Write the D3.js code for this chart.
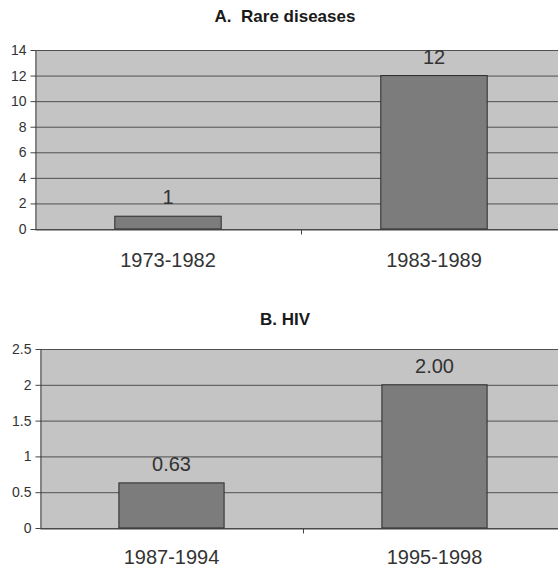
<!DOCTYPE html>
<html>
<head>
<meta charset="utf-8">
<script src="https://cdn.jsdelivr.net/npm/d3@7"></script>
<style>
  body { margin: 0; background: #fff; }
  svg { display: block; font-family: Arial, "Liberation Sans", sans-serif; }
</style>
</head>
<body>
<svg id="chart"></svg>
<script>
// panel A
var rareCategories = ['1973-1982', '1983-1989'];
var rareValues = [1, 12];
var rareLabels = ['1', '12'];
var rareTicks = [0, 2, 4, 6, 8, 10, 12, 14];

// panel B
var hivCategories = ['1987-1994', '1995-1998'];
var hivValues = [0.63, 2.00];
var hivLabels = ['0.63', '2.00'];
var hivTicks = [0, 0.5, 1, 1.5, 2, 2.5];

var width = 558, height = 567;
var svg = d3.select('#chart').attr('width', width).attr('height', height);

function drawPanel(opts) {
  var g = svg.append('g');
  var x = d3.scaleBand().domain(opts.categories).range([opts.left, opts.right]).paddingInner(0).paddingOuter(0);
  var y = d3.scaleLinear().domain([0, opts.max]).range([opts.bottom, opts.top]);

  // title
  g.append('text')
    .attr('x', 285).attr('y', opts.titleY)
    .attr('text-anchor', 'middle')
    .style('font-size', '17px').style('font-weight', 'bold').style('fill', '#1a1a1a')
    .style('white-space', 'pre')
    .text(opts.title);

  // plot background
  g.append('rect')
    .attr('x', opts.left).attr('y', opts.top)
    .attr('width', opts.right - opts.left).attr('height', opts.bottom - opts.top)
    .style('fill', '#c4c4c4');

  // gridlines
  g.selectAll('.grid')
    .data(opts.ticks)
    .enter().append('line')
    .attr('x1', opts.left).attr('x2', opts.right)
    .attr('y1', function(d) { return y(d) + 0.5; })
    .attr('y2', function(d) { return y(d) + 0.5; })
    .style('stroke', '#505050').style('stroke-width', 1);

  // bars
  g.selectAll('.bar')
    .data(opts.values)
    .enter().append('rect')
    .attr('x', function(d, i) { return x(opts.categories[i]) + x.bandwidth() * 0.3; })
    .attr('width', x.bandwidth() * 0.4)
    .attr('y', function(d) { return y(d); })
    .attr('height', function(d) { return y(0) - y(d); })
    .style('fill', '#7c7c7c').style('stroke', '#2a2a2a').style('stroke-width', 1);

  // value labels
  g.selectAll('.val')
    .data(opts.values)
    .enter().append('text')
    .attr('x', function(d, i) { return x(opts.categories[i]) + x.bandwidth() / 2; })
    .attr('y', function(d) { return y(d) - 12; })
    .attr('text-anchor', 'middle')
    .style('font-size', '20px').style('fill', '#333')
    .text(function(d, i) { return opts.labels[i]; });

  // y axis
  var yAxis = g.append('g')
    .attr('transform', 'translate(' + (opts.left + 0.5) + ',0)')
    .call(d3.axisLeft(y).tickValues(opts.ticks).tickFormat(d3.format('')).tickSize(5).tickSizeOuter(0).tickPadding(4));
  yAxis.selectAll('text').style('font-size', '14px').style('fill', '#333').style('font-family', 'Arial, "Liberation Sans", sans-serif');
  yAxis.selectAll('line, path').style('stroke', '#444');

  // x axis
  var xAxis = g.append('g')
    .attr('transform', 'translate(0,' + (opts.bottom + 0.5) + ')')
    .call(d3.axisBottom(x).tickSize(0).tickPadding(opts.labelPad).tickSizeOuter(0));
  xAxis.selectAll('text').style('font-size', '20px').style('fill', '#333').style('font-family', 'Arial, "Liberation Sans", sans-serif');
  xAxis.select('.domain').style('stroke', '#444');
  // divider ticks between categories
  xAxis.selectAll('.divider')
    .data(opts.categories.slice(1))
    .enter().append('line')
    .attr('x1', function(d) { return x(d) + 0.5; })
    .attr('x2', function(d) { return x(d) + 0.5; })
    .attr('y1', 0).attr('y2', 5)
    .style('stroke', '#444');
}

drawPanel({
  title: 'A.  Rare diseases', titleY: 22,
  categories: rareCategories, values: rareValues, labels: rareLabels, ticks: rareTicks, max: 14,
  left: 35, right: 567, top: 50, bottom: 229, labelPad: 23
});

drawPanel({
  title: 'B. HIV', titleY: 325,
  categories: hivCategories, values: hivValues, labels: hivLabels, ticks: hivTicks, max: 2.5,
  left: 40, right: 566, top: 349, bottom: 528, labelPad: 21
});
</script>
</body>
</html>
